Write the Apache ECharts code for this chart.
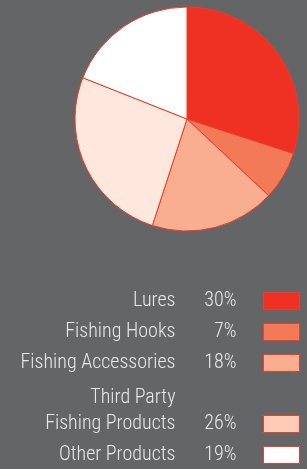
<!DOCTYPE html>
<html>
<head>
<meta charset="utf-8">
<script src="https://cdn.jsdelivr.net/npm/echarts@6/dist/echarts.min.js"></script>
<style>
  html, body { margin: 0; padding: 0; background: #646567; }
  #chart { width: 307px; height: 469px; }
</style>
</head>
<body>
<div id="chart"></div>
<script>
var names = ['Lures', 'Fishing Hooks', 'Fishing Accessories', 'Third Party Fishing Products', 'Other Products'];
var labels = [['Lures'], ['Fishing Hooks'], ['Fishing Accessories'], ['Third Party', 'Fishing Products'], ['Other Products']];
var values = [30, 7, 18, 26, 19];
var colors = ['#ef3124', '#f37a56', '#f9ae90', '#fee7dd', '#ffffff'];
var swatch = ['#ef3124', '#f37a56', '#f9ae90', '#fdcab6', '#ffffff'];
var rowCenter = [300, 331, 362, 423, 454];

var myChart = echarts.init(document.getElementById('chart'));

var pieData = [];
for (var i = 0; i < names.length; i++) {
    pieData.push({
        value: values[i],
        name: names[i],
        itemStyle: { color: colors[i] }
    });
}

var font = '"Roboto Condensed", "Roboto", sans-serif';
var rich = {
    n: { width: 160, align: 'right', color: '#e8e8e8', fontSize: 20, fontWeight: 300, fontFamily: font, lineHeight: 26 },
    p: { width: 61, align: 'right', color: '#e8e8e8', fontSize: 20, fontWeight: 300, fontFamily: font, lineHeight: 26 },
    s: { width: 22, fontSize: 20, lineHeight: 26 }
};

var legends = [];
for (var j = 0; j < names.length; j++) {
    (function (k) {
        var lines = labels[k];
        var top = rowCenter[k] - 9;
        if (lines.length > 1) top = rowCenter[k] - 35;
        legends.push({
            data: [{ name: names[k], itemStyle: { color: swatch[k], borderColor: '#e8402e', borderWidth: 1 } }],
            orient: 'vertical',
            align: 'right',
            right: 7,
            top: top,
            padding: 0,
            itemWidth: 36,
            itemHeight: 17,
            icon: 'rect',
            selectedMode: false,
            formatter: function () {
                var s = '';
                if (lines.length > 1) {
                    s = '{n|' + lines[0] + '}{p| }{s| }\n';
                    s += '{n|' + lines[1] + '}{p|' + values[k] + '%}{s| }\n{n| }{p| }{s| }';
                } else {
                    s = '{n|' + lines[0] + '}{p|' + values[k] + '%}{s| }';
                }
                return s;
            },
            textStyle: { rich: rich }
        });
    })(j);
}

var option = {
    backgroundColor: '#646567',
    animation: false,
    legend: legends,
    series: [
        {
            type: 'pie',
            center: [187, 119],
            radius: 112,
            startAngle: 90,
            clockwise: true,
            label: { show: false },
            labelLine: { show: false },
            silent: true,
            itemStyle: {
                borderColor: '#ee3a2a',
                borderWidth: 1
            },
            data: pieData
        }
    ]
};

myChart.setOption(option);
</script>
</body>
</html>
